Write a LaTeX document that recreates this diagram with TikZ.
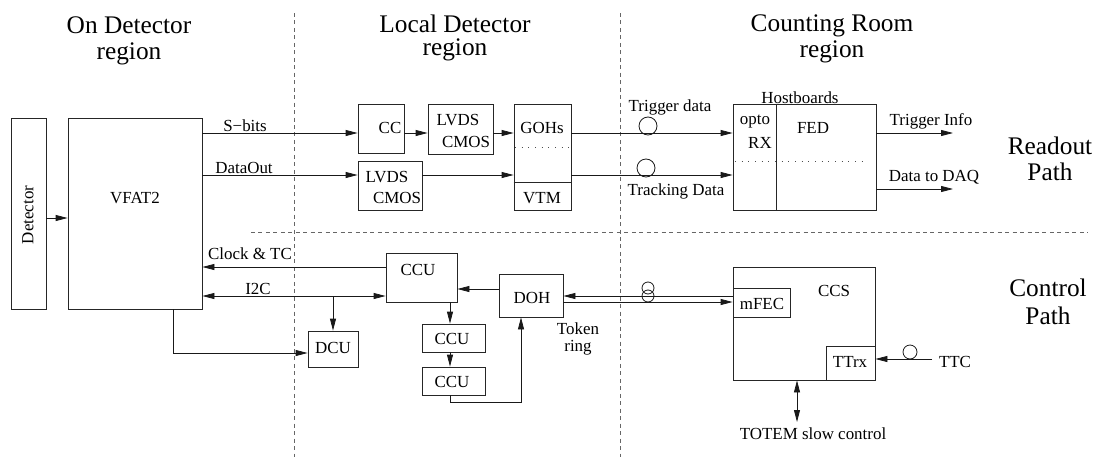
\documentclass[tikz,border=0pt]{standalone}
\usepackage{fontspec}
\setmainfont{Liberation Serif}
\usetikzlibrary{arrows.meta}
\tikzset{
  box/.style={draw=black!85, line width=0.6pt, inner sep=0pt},
  lbl/.style={inner sep=0pt, font=\fontsize{12.7}{14}\selectfont},
  big/.style={inner sep=0pt, align=center, font=\fontsize{19}{#1}\selectfont},
  conn/.style={line width=0.6pt, draw=black!90},
  arr/.style={conn, -{Triangle[length=9pt,width=4.5pt]}},
  darr/.style={conn, {Triangle[length=9pt,width=4.5pt]}-{Triangle[length=9pt,width=4.5pt]}},
  sep/.style={draw=black!60, line width=0.6pt, dash pattern=on 3pt off 2.6pt},
  dotline/.style={draw=black!70, line width=0.7pt, dash pattern=on 0.7pt off 4.3pt},
  fibre/.style={draw=black!90, line width=0.6pt}
}
\newcommand\mybox[5]{\node[box, minimum width={(#4-#2)*0.75pt}, minimum height={(#5-#3)*0.75pt}] (#1) at ({(#2+#4)/2},{(#3+#5)/2}) {};}
\begin{document}
\begin{tikzpicture}[x=0.75pt,y=-0.75pt]
\useasboundingbox (0,0) rectangle (1100,457);

% region separators
\draw[sep] (294,13) -- (294,457);
\draw[sep] (620,13) -- (620,457);
\draw[sep] (251,232) -- (1088,232);

% headings
\node[big=19.5pt] (h1) at (129,41) {On Detector\\region};
\node[big=17.5pt] (h2) at (455,38) {Local Detector\\region};
\node[big=19pt] (h3) at (832,39) {Counting Room\\region};
\node[big=19.5pt] (h4) at (1050,159) {Readout\\Path};
\node[big=21pt] (h5) at (1048,302) {Control\\Path};

% boxes
\mybox{det}{11}{118}{46}{309}
\mybox{vfat}{68}{118}{202}{309}
\mybox{cc}{358}{104}{404}{153}
\mybox{lva}{428}{104}{493}{154}
\mybox{lvb}{358}{161}{422}{210}
\mybox{goh}{514}{104}{571}{210}
\mybox{host}{733}{104}{876}{210}
\mybox{ccua}{386}{253}{457}{302}
\mybox{dcu}{308}{331}{358}{367}
\mybox{doh}{499}{274}{563}{317}
\mybox{ccub}{422}{324}{485}{352}
\mybox{ccuc}{422}{367}{485}{395}
\mybox{ccs}{733}{267}{875}{380}
\mybox{mfec}{733}{288}{790}{317}
\mybox{ttrx}{826}{346}{875}{380}

% inner lines
\draw[dotline] (515,147) -- (569,147);
\draw[box] (goh.west |- 0,182) -- (goh.east |- 0,182);
\draw[box] (host.north -| 776,0) -- (host.south -| 776,0);
\draw[dotline] (735,161) -- (868,161);

% box texts
\node[lbl, rotate=90] (tdet) at (28,215) {Detector};
\node[lbl] (tvfat) at (135,198) {VFAT2};
\node[lbl] (tcc) at (390,128) {CC};
\node[lbl] (tlva1) at (458,120) {LVDS};
\node[lbl] (tlva2) at (466,142) {CMOS};
\node[lbl] (tlvb1) at (387,177) {LVDS};
\node[lbl] (tlvb2) at (397,198) {CMOS};
\node[lbl] (tgoh) at (542,128) {GOHs};
\node[lbl] (tvtm) at (542,198) {VTM};
\node[lbl] (thost) at (800,98) {Hostboards};
\node[lbl] (topto) at (755,122) {opto};
\node[lbl] (trx) at (760,143) {RX};
\node[lbl] (tfed) at (813,128) {FED};
\node[lbl] (tccua) at (418,270) {CCU};
\node[lbl] (tdcu) at (333,348) {DCU};
\node[lbl] (tccub) at (452,339) {CCU};
\node[lbl] (tccuc) at (452,382) {CCU};
\node[lbl] (tdoh) at (532,298) {DOH};
\node[lbl] (tccs) at (834,291) {CCS};
\node[lbl] (tmfec) at (762,304) {mFEC};
\node[lbl] (tttrx) at (850,362) {TTrx};

% readout path connectors
\draw[arr] (det.east |- 0,218) -- (vfat.west |- 0,218);
\draw[arr] (vfat.east |- 0,133) -- (cc.west |- 0,133);
\node[lbl] (lsb) at (245,126) {S−bits};
\draw[arr] (cc.east |- 0,133) -- (lva.west |- 0,133);
\draw[arr] (lva.east |- 0,133) -- (goh.west |- 0,133);
\draw[arr] (vfat.east |- 0,175) -- (lvb.west |- 0,175);
\node[lbl] (ldo) at (244,168) {DataOut};
\draw[arr] (lvb.east |- 0,175) -- (goh.west |- 0,175);

\draw[arr] (goh.east |- 0,133) -- (host.west |- 0,133);
\node[fibre, circle, minimum size={18*0.75pt}, inner sep=0pt] (fib1) at (648,126) {};
\node[lbl] (ltd) at (670,107) {Trigger data};
\draw[arr] (goh.east |- 0,175) -- (host.west |- 0,175);
\node[fibre, circle, minimum size={18*0.75pt}, inner sep=0pt] (fib2) at (646,168) {};
\node[lbl] (ltrk) at (676,191) {Tracking Data};

\coordinate (tiend) at (953,133);
\coordinate (daqend) at (953,189);
\draw[arr] (host.east |- tiend) -- (tiend);
\node[lbl] (lti) at (931,121) {Trigger Info};
\draw[arr] (host.east |- daqend) -- (daqend);
\node[lbl] (ldaq) at (934,177) {Data to DAQ};

% control path connectors
\draw[arr] (ccua.west |- 0,267) -- (vfat.east |- 0,267);
\node[lbl] (lclk) at (250,254) {Clock \& TC};
\draw[darr] (vfat.east |- 0,296) -- (ccua.west |- 0,296);
\node[lbl] (li2c) at (258,289) {I2C};
\draw[arr] (dcu.north |- 0,296) -- (dcu.north);
\draw[arr] (vfat.south -| 173,0) |- (dcu.west |- 0,353);
\draw[arr] (doh.west |- 0,289) -- (ccua.east |- 0,289);
\draw[arr] (ccua.south -| 450,0) -- (ccub.north -| 450,0);
\draw[arr] (ccub.south -| 450,0) -- (ccuc.north -| 450,0);
\draw[arr] (ccuc.south -| 450,0) -- ++(0,7) -| (doh.south -| 521,0);
\node[lbl, align=center, font=\fontsize{12.7}{12.5}\selectfont] (ltok) at (578,339) {Token\\ring};

\draw[arr] (mfec.west |- 0,296) -- (doh.east |- 0,296);
\draw[arr] (doh.east |- 0,302) -- (mfec.west |- 0,302);
\node[fibre, circle, minimum size={12*0.75pt}, inner sep=0pt] (fib3) at (648,288) {};
\node[fibre, circle, minimum size={12*0.75pt}, inner sep=0pt] (fib4) at (648,296) {};

\coordinate (ttcstart) at (932,359);
\draw[arr] (ttcstart) -- (ttrx.east |- ttcstart);
\node[fibre, circle, minimum size={14*0.75pt}, inner sep=0pt] (fib5) at (910,352) {};
\node[lbl] (lttc) at (955,362) {TTC};

\coordinate (totend) at (797,422);
\draw[darr] (ccs.south -| totend) -- (totend);
\node[lbl] (ltot) at (813,434) {TOTEM slow control};
\end{tikzpicture}
\end{document}
